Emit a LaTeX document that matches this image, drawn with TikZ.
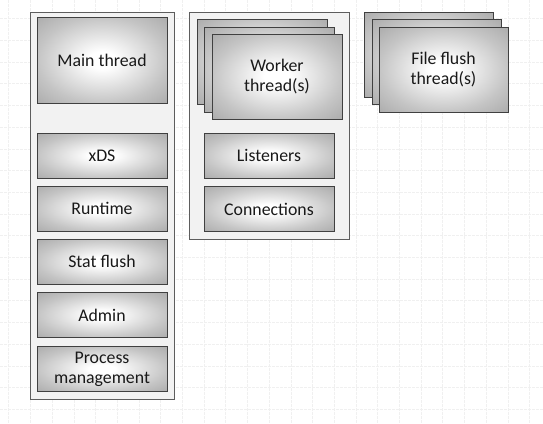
\documentclass[tikz,border=0pt]{standalone}
\usepackage{fontspec}
\setmainfont{Carlito}
\usetikzlibrary{positioning}

\definecolor{gridline}{HTML}{F0F0F0}
\definecolor{panelfill}{HTML}{F2F2F2}
\definecolor{edgegray}{HTML}{404040}
\pgfdeclareradialshading{softglow}{\pgfpoint{0bp}{0bp}}{%
  color(0bp)=(white); color(5bp)=(white); color(25bp)=(black!23);
  color(36bp)=(black!33); color(50bp)=(black!33)}

\tikzset{
  panel/.style={draw=edgegray!85, fill=panelfill, line width=0.9pt},
  block/.style={draw=edgegray, line width=0.9pt, shading=softglow,
    font=\fontsize{17.8}{20}\selectfont, text=black!90, align=center, inner sep=0pt,
    minimum width=130pt, minimum height=45pt},
  tall/.style={block, minimum height=86pt},
  behind/.style={block, minimum height=85pt}
}

\begin{document}
\begin{tikzpicture}[x=1pt, y=-1pt]
    % page and faint grid
    \useasboundingbox (0,0) rectangle (543,423);
    \fill[white] (0,0) rectangle (543,423);
    \draw[gridline, line width=0.6pt, dash pattern=on 3pt off 1pt, step=21.7pt, shift={(8.7,18.6)}] (-8.7,-18.6) grid (534.3,404.4);

    % main thread column
    \draw[panel] (30,12) rectangle (174,399);
    \node[tall] (main) at (102,60) {Main thread};
    \node[block] (xds) at (102,155.5) {xDS};
    \node[block] (runtime) at (102,208.5) {Runtime};
    \node[block] (statflush) at (102,261.5) {Stat flush};
    \node[block] (admin) at (102,315) {Admin};
    \node[block] (procmgmt) at (102,369) {Process\\management};

    % worker column
    \draw[panel] (189,12) rectangle (349,239);
    \node[behind] (worker3) at (262,61.5) {};
    \node[behind] (worker2) at (269,69.5) {};
    \node[tall, minimum height=85pt] (worker) at (277,76.5) {Worker\\thread(s)};
    \node[block] (listeners) at (269,155.5) {Listeners};
    \node[block] (connections) at (269,209) {Connections};

    % file flush threads
    \node[behind, minimum width=129pt] (flush3) at (428.5,54.5) {};
    \node[behind, minimum width=129pt] (flush2) at (436.5,61.5) {};
    \node[tall, minimum width=129pt, minimum height=85pt] (flush) at (443.5,69.5) {File flush\\thread(s)};
\end{tikzpicture}
\end{document}
